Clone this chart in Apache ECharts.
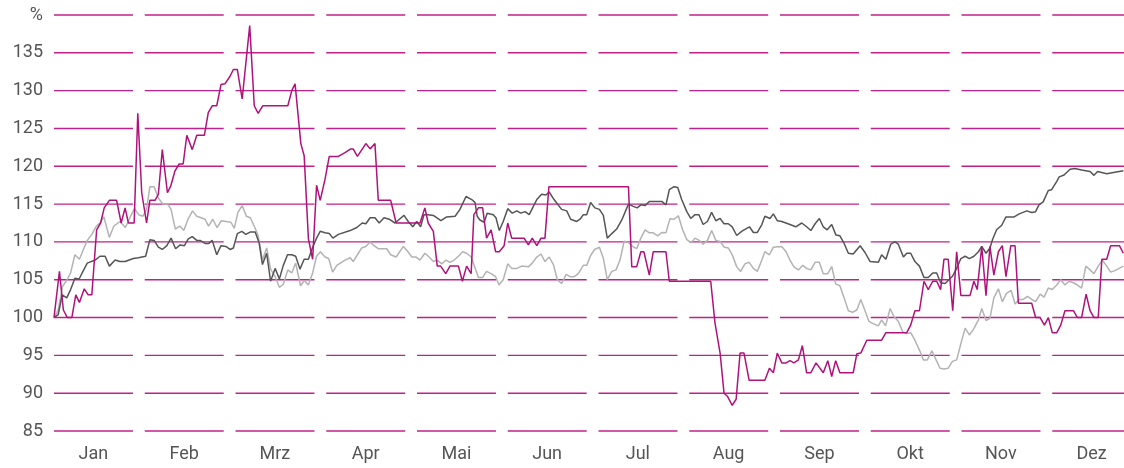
<!DOCTYPE html>
<html>
<head>
<meta charset="utf-8">
<script src="https://cdn.jsdelivr.net/npm/echarts@6/dist/echarts.min.js"></script>
<style>
  html, body { margin: 0; padding: 0; background: #fff; }
  #chart { width: 1124px; height: 468px; }
</style>
</head>
<body>
<div id="chart"></div>
<script>
// x values are days in a 360-day year (30 per month), y values are percent (start = 100)
var months = ["Jan", "Feb", "Mrz", "Apr", "Mai", "Jun", "Jul", "Aug", "Sep", "Okt", "Nov", "Dez"];
var yTicks = [85, 90, 95, 100, 105, 110, 115, 120, 125, 130, 135, 140];

var shareData = [
    [0,100],[1.8,106.1],[3.1,101],[4.4,100],[5.9,100],[7.2,103],[8.4,102],[10,103.8],[11.3,103],[12.5,103],
    [14.1,111.6],[15.4,112.5],[16.6,114.5],[18.3,115.5],[20.7,115.5],[22.2,112.5],[23.5,114.5],[24.6,112.5],
    [26.5,112.5],[27.7,127],[29,116.5],[30.6,112.5],[31.7,115.5],[33.4,115.5],[34.5,116.3],[35.8,122.2],
    [37.5,116.5],[38.6,117.4],[40,119.4],[41.4,120.3],[42.7,120.3],[43.9,124.1],[45.7,122.2],[47.2,124.1],
    [49.7,124.1],[51,127.1],[52.3,128],[53.8,128],[55.2,130.8],[56.5,130.9],[58.2,131.9],[59.3,132.8],
    [60.6,132.8],[62.2,128.9],[64.7,138.6],[66.2,128],[67.5,127],[69,128],[77.3,128],[78.6,130],[79.7,130.9],
    [81.6,123],[82.7,121.4],[84.1,110.4],[85.5,107.7],[86.8,117.5],[88,115.5],[89.6,118.3],[91,121.3],
    [94,121.3],[96.2,121.8],[98.1,122.3],[98.9,122.3],[100.3,121.3],[103.1,123],[104.5,122.3],[106.1,123],
    [107.2,115.5],[111.3,115.5],[113.1,112.5],[121,112.5],[122.6,114.5],[123.7,112.5],[125.4,111.4],
    [126.7,106.8],[127.8,106.8],[129.5,105.8],[130.9,106.8],[133.7,106.8],[135,104.8],[136.4,106.8],
    [137.9,105.8],[138.8,113.6],[140.3,114.5],[141.7,114.5],[143,110.5],[144.5,111.6],[146,108.7],
    [147.2,108.7],[148.8,109.5],[150,112.5],[151.3,110.5],[155.4,110.5],[156.8,109.6],[158.1,110.5],
    [159.6,109.5],[161,110.5],[162.3,110.5],[163.6,117.3],[189.9,117.3],[191,106.7],[192.6,106.7],
    [194,108.7],[195,108.7],[196.8,105.6],[198.1,108.7],[202.3,108.7],[203.4,104.8],[217.1,104.8],
    [218.5,99.3],[220.2,95.3],[221.5,90],[222.6,89.6],[224.2,88.4],[225.5,89.2],[226.8,95.3],[228.1,95.3],
    [229.8,91.7],[235,91.7],[236.5,93.3],[237.8,92.7],[239.1,95.3],[240.6,94],[242,94],[243.3,94.3],
    [244.6,94],[246.1,94.4],[247.4,96.3],[248.8,92.7],[250.2,92.7],[251.9,94],[254.3,92.7],[255.8,94.3],
    [257.1,92.2],[258.4,94.3],[259.8,92.7],[264.2,92.7],[265.4,95.2],[266.7,95.3],[268.7,97],[273.6,97],
    [275,98],[276.4,98],[281.9,98],[283.2,99],[284.6,100.9],[286.1,100.9],[287.6,104.8],[289,103.7],
    [290.5,104.8],[291.8,104.8],[293.1,103.7],[294.2,107.7],[295.6,107.7],[297.1,100.9],[298.4,108.7],
    [299.8,102.9],[302.8,102.9],[304.1,104.8],[305.2,103.7],[306.7,109.4],[308.1,102.9],[309.4,109.4],
    [310.7,105.6],[312.2,108.7],[313.5,109.5],[314.7,105.4],[316.3,109.5],[317.7,109.5],[318.8,101.9],
    [323.2,101.9],[324.5,100],[326,100],[327.4,99],[328.7,100],[330,98],[331.5,98],[332.8,99],[334.2,100.9],
    [337,100.9],[338.3,100],[339.7,100],[341.2,103.1],[342.5,100.9],[343.8,100],[345.2,100],[346.4,107.7],
    [348,107.7],[349.3,109.5],[352.2,109.5],[353.5,108.5]
];

var benchmarkData = [
    [0,100],[1.4,100.4],[2.7,103],[4.2,102.6],[5.5,103.7],[6.9,105.2],[8.3,105.1],[9.7,106.2],[11,107.2],
    [13.6,107.6],[15.2,108.1],[16.9,108.1],[18.3,106.8],[20.2,107.6],[21.8,107.4],[23.5,107.4],[26.2,107.8],
    [27.9,107.9],[30.3,108.1],[31.7,110.3],[33.1,110.2],[34.5,109.3],[35.8,109],[37.3,109.5],[38.7,110.5],
    [40.2,109.1],[41.7,109.6],[43.1,109.5],[44.4,110.4],[45.7,110.7],[47.2,110.2],[48.3,110.2],[49.9,109.8],
    [51.2,109.8],[52.3,110.2],[53.8,108.3],[55.2,109.5],[56.8,109.4],[58.2,109],[59.3,109.2],[60.6,111.1],
    [62.1,111.4],[63.4,111],[64.8,111.3],[66.5,111.3],[67.8,109.9],[68.9,107],[70.3,108.5],[71.6,104.8],
    [73.1,106.5],[74.5,105.1],[75.8,106.9],[77.2,108.3],[78.6,108.3],[79.9,108.1],[81.3,106.4],[82.7,107.7],
    [84.1,107.7],[85.5,109.3],[86.8,110.5],[88,111.4],[89.6,111.2],[91,111.1],[92.2,110.5],[94,111],
    [97.9,111.5],[100.1,111.9],[101.9,112.5],[103.1,112.4],[104.5,113.2],[106.1,113.2],[107.5,112.5],
    [109.1,113.2],[110.8,113],[112.7,112.5],[115.7,113.5],[117.1,112.7],[118.6,112],[119.9,112.7],
    [121.2,112],[122.3,113.6],[123.7,113.6],[125.4,113.5],[127.9,112.8],[129.8,113.3],[132.6,113.4],
    [134.2,114.3],[136.2,116],[138.1,115.6],[139.2,115.2],[139.9,113.4],[140.8,112.9],[142.2,112.6],
    [143.2,113.8],[145.2,113.6],[146.1,113.2],[147.2,111.5],[148.5,112.7],[150,114.4],[151.5,113.8],
    [153,114.1],[154.3,113.8],[155.7,114],[157.1,113.6],[159.6,115.6],[161.2,116.3],[162.6,116.2],
    [163.7,116.6],[165.3,115.6],[167.8,114.3],[169.5,114.1],[170.8,113],[172.8,112.7],[173.9,113],
    [175,113.6],[176.1,113.6],[177.4,115.2],[178.8,114.5],[180.3,114.3],[181.6,113.5],[182.9,110.5],
    [184.4,111.1],[186,111.7],[187.7,112.9],[189.9,115],[191.5,114.7],[192.8,114.5],[194,114.9],
    [195.4,114.8],[196.8,115.35],[200.9,115.35],[202.3,114.9],[203.4,116.9],[205,117.3],[206.2,117.2],
    [207.5,115.6],[209.2,114],[210.5,113.1],[211.9,113.6],[213.2,113.6],[214.6,112.3],[216,112.7],
    [217.4,113.9],[218.8,112.8],[220.2,113.1],[221.5,112.4],[222.9,112.4],[224.2,112],[225.7,110.85],
    [227.3,111.4],[229,111.8],[229.9,112],[231.2,111.25],[232.5,111.25],[234,112.3],[235,113.4],
    [236.7,113.1],[237.8,113.7],[239.1,112.8],[240.6,112.7],[243.3,112.3],[245.2,112],[247.2,112.5],
    [248.8,112],[250.2,111.5],[251.6,112.4],[253,113.1],[254.3,112],[255.6,111.6],[257.1,112.3],
    [258.5,110.9],[259.8,110.8],[261.2,109.8],[262.6,108.5],[264.2,108.4],[266.5,109.5],[268.1,108.6],
    [269.8,107.4],[272.5,107.3],[273.6,108.3],[275,107.7],[276.6,109.7],[278,110],[279.1,109.7],
    [280.8,108],[281.9,108.5],[283.2,108.5],[284.6,107.4],[286.1,106.8],[287.6,105.3],[289,105.3],
    [290.5,105.9],[291.8,105.9],[293.1,104.6],[294.6,104.5],[295.6,104.9],[297.1,105.5],[298.4,106.5],
    [299.8,107.8],[301.2,108.1],[302.6,107.8],[304.1,108.1],[305.6,108.7],[306.7,109.4],[308.1,108.5],
    [309.4,109.2],[310.3,110.35],[311.6,111.6],[313.3,112.2],[314.7,113.3],[317.4,113.3],[319.1,113.7],
    [321.6,114.1],[323.2,113.9],[324.5,114],[325.6,114.9],[327,115.3],[328.7,116.8],[329.8,116.9],
    [331.5,118],[332.3,118.6],[333.9,118.85],[335.9,119.6],[337.5,119.7],[339.7,119.5],[342.5,119.3],
    [343.8,118.8],[345,119.3],[348,119],[350.7,119.2],[353.5,119.4]
];

var sectorData = [
    [0,100],[1.4,101],[2.8,104.1],[4.2,104.9],[5.5,105.9],[6.9,108.3],[8.4,107.7],[9.7,109],[11,110.2],
    [12.5,111],[14,112.1],[15.2,112.5],[16.5,113.3],[18.3,110.6],[19.8,112.1],[21.8,112.7],[23.6,111.9],
    [25.1,113.2],[26.6,114.4],[28,113.6],[29.4,113.4],[30.6,114.3],[31.7,117.3],[33.1,117.3],[34.5,115.8],
    [36,115],[37.6,115],[38.7,114.3],[40.1,111.7],[41.6,112.1],[42.9,111.5],[44.2,112.9],[45.8,114.1],
    [47.2,113.4],[48.6,113.2],[49.9,113],[51.1,112.1],[52.5,113],[53.9,111.9],[55.3,112.8],[56.9,112.7],
    [58.5,112.6],[59.6,111.8],[60.8,113.9],[62.2,114.8],[63.6,113.4],[64.9,113.2],[66.4,111.9],[67.5,110.8],
    [68.9,107.6],[70.3,109.2],[71.6,106.4],[73.1,105.4],[74.5,104],[75.8,104.4],[77.3,106.3],[78.6,105.9],
    [79.9,107.2],[81.5,104.2],[82.7,104.9],[84.1,104.3],[85.5,105.9],[86.8,108.1],[88.1,108.7],[89.6,108],
    [90.8,107.8],[92.1,106],[93.5,106.9],[96.2,107.6],[97.9,107.9],[98.9,107.4],[100.3,108.3],[101.7,109.2],
    [103.1,109.4],[104.5,110],[105.8,109.5],[107.2,109.1],[110,109.1],[111.3,108.3],[113.1,108],
    [115.5,109.4],[116.8,108.8],[118.3,108],[119.7,108],[121,107.6],[122.6,108.5],[124,108],[125.4,107.4],
    [126.7,107.6],[128.2,107.1],[129.6,107.6],[130.9,107.3],[132.3,107.6],[133.7,108.1],[135.1,108.7],
    [136.4,108.5],[137.9,108],[138.8,107],[140.3,105.3],[141.7,105.3],[143,106.1],[144.5,105.8],
    [146,105.4],[147.1,104.3],[148.5,105],[150,107.1],[151.3,106.5],[153,106.5],[154.6,106.8],[156.8,106.7],
    [158.1,107.2],[159.6,108],[161,108.4],[162.3,107.4],[163.7,108],[165.1,107],[166.4,105],[167.8,104.5],
    [169.3,105.7],[170.6,105.4],[172,105.4],[173.3,105.8],[175,106.9],[176.1,106.9],[177.4,108.2],
    [178.7,109],[180.3,109.3],[181.6,107.85],[182.9,105],[184.4,106.1],[185.8,106.3],[187.1,107.6],
    [188.5,110.1],[189.9,109.9],[191.3,109.4],[192.6,109.1],[194,110.5],[195.4,111.6],[196.8,111.2],
    [198.1,111.2],[199.6,110.8],[200.9,111.25],[202.3,111.2],[203.6,113.05],[205,113],[206.4,113.45],
    [207.8,111.6],[209.2,110.3],[210.6,109.9],[211.9,110.5],[213.3,110.2],[214.6,109.7],[216,110.2],
    [217.4,111.5],[218.8,110.2],[220.2,110.05],[221.6,109.3],[222.9,109.2],[224.2,108.3],[225.7,106.7],
    [227,106.1],[228.4,107.1],[229.8,107.3],[231.2,106.5],[232.5,106.1],[234,107.6],[235,108.7],
    [236.5,108.3],[237.8,109.3],[240.6,109.4],[242,108.7],[243.3,107.6],[244.6,106.7],[246.1,106.3],
    [247.5,106.9],[248.8,106.5],[250.2,106.3],[251.6,107.3],[253,107.3],[254.3,105.8],[255.8,105.8],
    [257.1,106.75],[258.4,104.45],[259.8,104.2],[261.2,102.6],[262.6,100.9],[264,100.7],[265.4,101],
    [266.7,102.4],[268.1,100.9],[269.4,99.5],[270.8,99.2],[272.5,98.9],[273.6,99.7],[274.9,98.9],
    [276.4,101.2],[277.7,100.1],[279.1,99.5],[280.6,98.1],[281.9,97.9],[283.2,98],[284.6,97],[286.1,95.7],
    [287.4,94.4],[288.7,94.4],[290.2,95.6],[291.6,94.4],[292.9,93.3],[294.2,93.2],[295.6,93.3],[297,94.2],
    [298.4,94.4],[299.7,96.4],[301.2,98.6],[302.6,97.7],[303.9,98.4],[305.6,99.7],[306.7,101.2],[308.1,99.6],
    [309.4,99.9],[310.7,102.6],[312.2,103.8],[313.5,102.1],[314.9,103.2],[316.4,103.6],[317.7,101.8],
    [319,102.4],[320.4,102.4],[321.8,102.8],[323.2,102.4],[324.5,102.1],[326,103.1],[327.3,102.7],
    [328.7,103.9],[330,103.7],[331.5,104.3],[332.8,105],[334.2,104.3],[335.5,104.8],[337,104.6],
    [338.3,104.3],[339.7,103.9],[341.1,106.8],[342.5,106.3],[343.8,105.8],[345.2,106.8],[346.6,107.6],
    [348,106.8],[349.3,106],[350.7,106.2],[352.1,106.5],[353.5,106.8]
];

var gridColor = "#c0208a";
var labelColor = "#555";
var daysPerMonth = 30;
var segmentDays = 26.1;   // drawn part of every month, the rest is the gap

var gridSegments = [];
for (var m = 0; m < months.length; m++) {
    for (var k = 0; k < yTicks.length; k++) {
        gridSegments.push([m, yTicks[k]]);
    }
}

function renderSegment(params, api) {
    var m = api.value(0);
    var level = api.value(1);
    var p1 = api.coord([m * daysPerMonth, level]);
    var p2 = api.coord([m * daysPerMonth + segmentDays, level]);
    return {
        type: "line",
        shape: { x1: p1[0], y1: p1[1], x2: p2[0], y2: p2[1] },
        style: { stroke: gridColor, lineWidth: 1.4 }
    };
}

function lineSeries(data, color, z) {
    return {
        type: "line",
        data: data,
        xAxisIndex: 0,
        showSymbol: false,
        silent: true,
        z: z,
        lineStyle: { color: color, width: 1.5 }
    };
}

var chart = echarts.init(document.getElementById("chart"));
chart.setOption({
    animation: false,
    textStyle: { fontFamily: "Roboto" },
    // the last month runs past the right edge of the picture
    grid: { left: 54, top: 15, width: 1089, height: 416, outerBoundsMode: "none", containLabel: false },
    xAxis: [
        { type: "value", min: 0, max: 360, show: false },
        {
            type: "category",
            data: months,
            position: "bottom",
            boundaryGap: true,
            axisLine: { show: false },
            axisTick: { show: false },
            splitLine: { show: false },
            axisLabel: {
                color: labelColor,
                fontSize: 18,
                margin: 14,
                padding: [0, 12, 0, 0]
            }
        }
    ],
    yAxis: {
        type: "value",
        min: 85,
        max: 140,
        interval: 5,
        axisLine: { show: false },
        axisTick: { show: false },
        splitLine: { show: false },
        axisLabel: {
            color: labelColor,
            fontSize: 18,
            margin: 11,
            formatter: function (v) { return v === 140 ? "%" : String(v); }
        }
    },
    series: [
        {
            type: "custom",
            xAxisIndex: 0,
            data: gridSegments,
            renderItem: renderSegment,
            silent: true,
            z: 1
        },
        lineSeries(sectorData, "#b3b3b3", 2),
        lineSeries(benchmarkData, "#555555", 3),
        lineSeries(shareData, "#b0127c", 4)
    ]
});
</script>
</body>
</html>
